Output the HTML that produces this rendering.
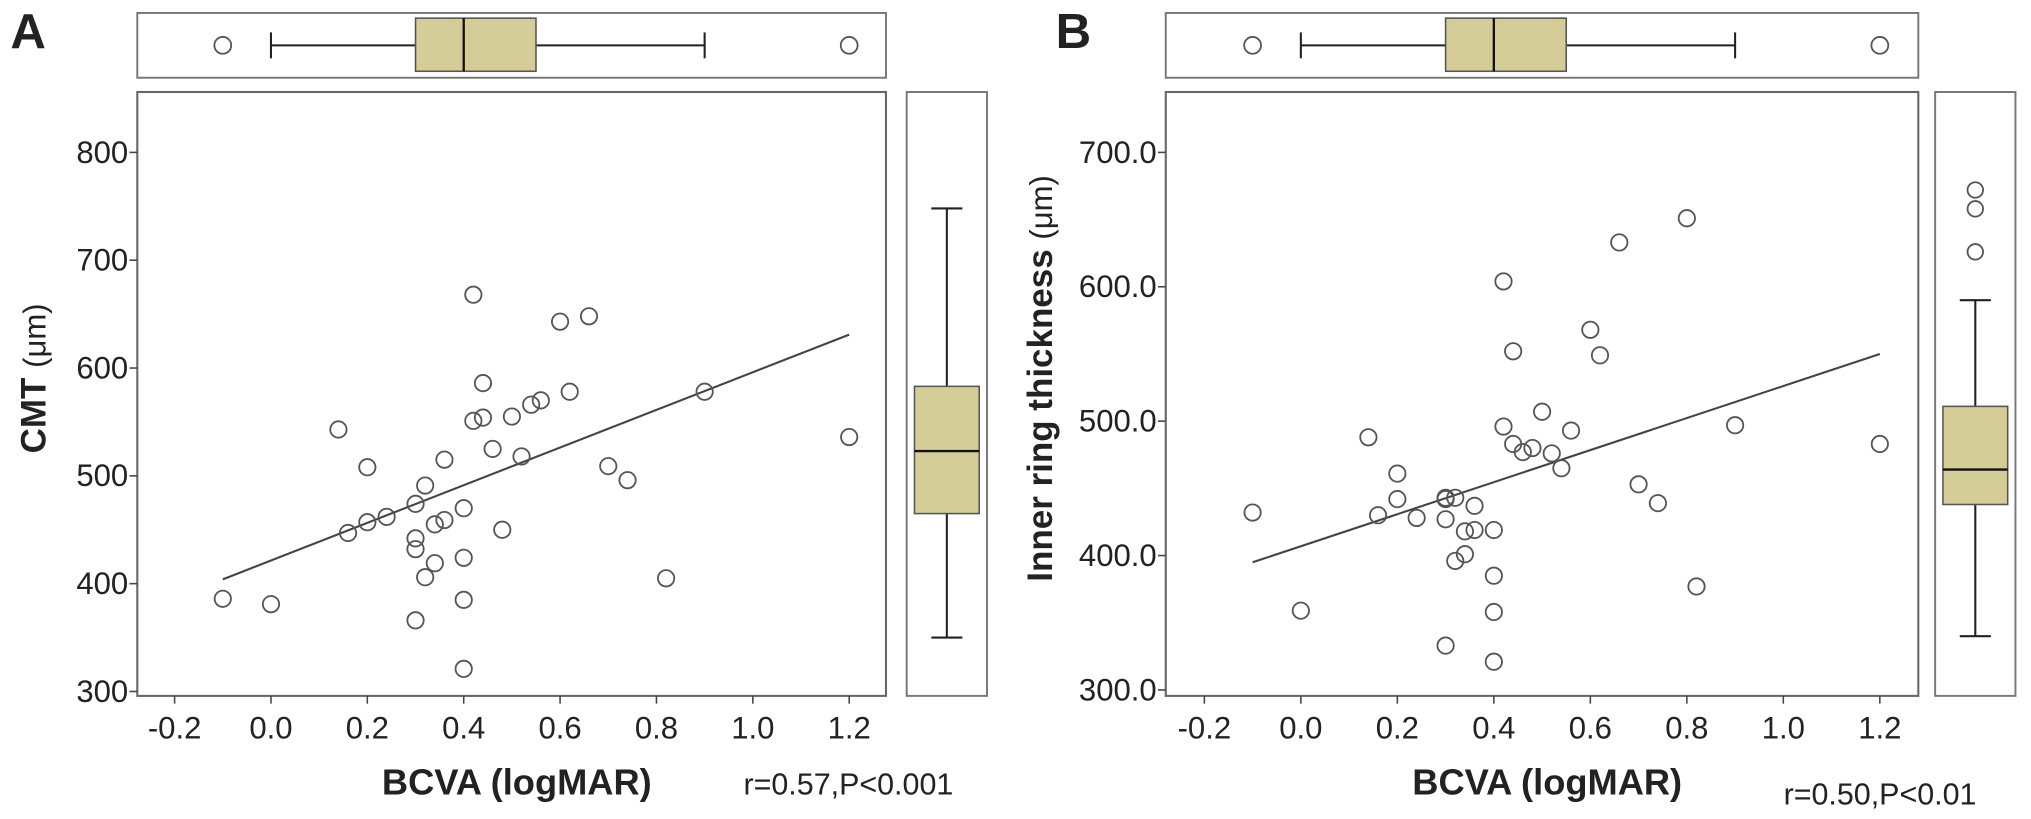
<!DOCTYPE html>
<html><head><meta charset="utf-8"><style>
html,body{margin:0;padding:0;background:#fff;}
svg{display:block;}
text{font-family:"Liberation Sans",Arial,sans-serif;fill:#222;}
</style></head><body>
<svg id="chart" width="2031" height="819" viewBox="0 0 1568 632" preserveAspectRatio="none" xmlns="http://www.w3.org/2000/svg"></svg>
<script>
// Panel A data
const aBcva = [0.42,0.60,0.66,0.44,0.62,0.90,0.54,0.56,0.42,0.44,0.50,0.14,1.20,0.46,0.36,0.52,0.20,0.70,0.74,0.32,0.30,0.40,0.24,0.20,0.16,0.34,0.36,0.48,0.30,0.30,0.40,0.34,0.32,0.82,-0.10,0.00,0.40,0.30,0.40];
const aCmt = [668,643,648,586,578,578,566,570,551,554,555,543,536,525,515,518,508,509,496,491,474,470,462,457,447,455,459,450,442,432,424,419,406,405,386,381,385,366,321];
const aFitX = [-0.10,1.20];
const aFitY = [404,631];
const aXBox = [0.00,0.30,0.40,0.55,0.90]; // whiskerLow,Q1,median,Q3,whiskerHigh
const aXOut = [-0.10,1.20];
const aYBox = [350,465,523,583,748];
const aYOut = [];
const aYTicks = [300,400,500,600,700,800];
// Panel B data
const bBcva = [0.80,0.66,0.42,0.60,0.44,0.62,0.50,0.42,0.56,0.90,0.14,1.20,0.44,0.46,0.48,0.52,0.54,0.20,0.70,0.74,0.20,0.30,0.32,0.30,0.36,-0.10,0.16,0.24,0.30,0.34,0.36,0.40,0.34,0.32,0.40,0.82,0.00,0.40,0.30,0.40];
const bIrt = [651,633,604,568,552,549,507,496,493,497,488,483,483,477,480,476,465,461,453,439,442,442,443,443,437,432,430,428,427,418,419,419,401,396,385,377,359,358,333,321];
const bFitX = [-0.10,1.20];
const bFitY = [395,550];
const bXBox = [0.00,0.30,0.40,0.55,0.90];
const bXOut = [-0.10,1.20];
const bYBox = [340,438,464,511,590];
const bYOut = [626,658,672];
const bYTicks = [300,400,500,600,700];
const xTicks = [-0.2,0.0,0.2,0.4,0.6,0.8,1.0,1.2];
const xTickLabels = ["-0.2","0.0","0.2","0.4","0.6","0.8","1.0","1.2"];

const NS="http://www.w3.org/2000/svg";
const svg=document.getElementById('chart');
function mk(tag,attrs,parent){const e=document.createElementNS(NS,tag);for(const k in attrs)e.setAttribute(k,attrs[k]);(parent||svg).appendChild(e);return e;}

function panel(cfg){
  const g=mk('g',{});
  
  
  const X=v=>cfg.x0v+v*cfg.xs;
  const Y=v=>117.6+(cfg.ytop-v)*cfg.ys;
  const L=cfg.left,R=cfg.right,T=71,B=537;
  const lt=mk('text',{x:cfg.letterX,y:37,'font-size':38,'font-weight':'bold',fill:'#111'},g);
  lt.textContent=cfg.letter;
  
  
  const tb=mk('rect',{x:L,y:10,width:R-L,height:50,fill:'#fff',stroke:'#777','stroke-width':1.5},g);
  
  
  const xb=cfg.xBox;
  mk('line',{x1:X(xb[0]),x2:X(xb[1]),y1:35,y2:35,stroke:'#222','stroke-width':1.6},g);
  mk('line',{x1:X(xb[3]),x2:X(xb[4]),y1:35,y2:35,stroke:'#222','stroke-width':1.6},g);
  mk('line',{x1:X(xb[0]),x2:X(xb[0]),y1:25,y2:45,stroke:'#222','stroke-width':1.6},g);
  mk('line',{x1:X(xb[4]),x2:X(xb[4]),y1:25,y2:45,stroke:'#222','stroke-width':1.6},g);
  const tbx=mk('rect',{x:X(xb[1]),y:14,width:X(xb[3])-X(xb[1]),height:41,fill:'#d4cd97',stroke:'#555','stroke-width':1.2},g);
  
  
  mk('line',{x1:X(xb[2]),x2:X(xb[2]),y1:14,y2:55,stroke:'#111','stroke-width':1.8},g);
  cfg.xOut.forEach(v=>{const c=mk('circle',{cx:X(v),cy:35,r:6.5,fill:'none',stroke:'#555','stroke-width':1.4},g);
    
    });
  const RL=cfg.rbL,RR=cfg.rbR,cx=(RL+RR)/2;
  const rb=mk('rect',{x:RL,y:T,width:RR-RL,height:B-T,fill:'#fff',stroke:'#777','stroke-width':1.5},g);
  
  
  const yb=cfg.yBox;
  mk('line',{x1:cx,x2:cx,y1:Y(yb[0]),y2:Y(yb[1]),stroke:'#222','stroke-width':1.6},g);
  mk('line',{x1:cx,x2:cx,y1:Y(yb[3]),y2:Y(yb[4]),stroke:'#222','stroke-width':1.6},g);
  mk('line',{x1:cx-12,x2:cx+12,y1:Y(yb[0]),y2:Y(yb[0]),stroke:'#222','stroke-width':1.6},g);
  mk('line',{x1:cx-12,x2:cx+12,y1:Y(yb[4]),y2:Y(yb[4]),stroke:'#222','stroke-width':1.6},g);
  const rbx=mk('rect',{x:RL+6,y:Y(yb[3]),width:RR-RL-12,height:Y(yb[1])-Y(yb[3]),fill:'#d4cd97',stroke:'#555','stroke-width':1.2},g);
  
  
  mk('line',{x1:RL+6,x2:RR-6,y1:Y(yb[2]),y2:Y(yb[2]),stroke:'#111','stroke-width':1.8},g);
  cfg.yOut.forEach(v=>{const c=mk('circle',{cx:cx,cy:Y(v),r:6,fill:'none',stroke:'#555','stroke-width':1.4},g);
    
    });
  const pf=mk('rect',{x:L,y:T,width:R-L,height:B-T,fill:'#fff',stroke:'#666','stroke-width':1.6},g);
  
  
  cfg.yTicks.forEach(v=>{
    mk('line',{x1:L-6,x2:L,y1:Y(v),y2:Y(v),stroke:'#444','stroke-width':1.2},g);
    const t=mk('text',{x:L-7,y:Y(v)+8,'font-size':24,'text-anchor':'end',fill:'#333'},g);
    t.textContent=cfg.fmt(v);
    
    
  });
  xTicks.forEach((v,i)=>{
    mk('line',{x1:X(v),x2:X(v),y1:B,y2:B+6,stroke:'#444','stroke-width':1.2},g);
    const t=mk('text',{x:X(v),y:570,'font-size':24,'text-anchor':'middle',fill:'#333'},g);
    t.textContent=xTickLabels[i];
    
    
  });
  const fl=mk('line',{x1:X(cfg.fitX[0]),y1:Y(cfg.fitY[0]),x2:X(cfg.fitX[1]),y2:Y(cfg.fitY[1]),stroke:'#444','stroke-width':1.6},g);
  
  
  cfg.xs_.forEach((v,i)=>{
    const c=mk('circle',{cx:X(v),cy:Y(cfg.ys_[i]),r:6.3,fill:'none',stroke:'#555','stroke-width':1.4},g);
    
    
  });
  const xt=mk('text',{x:(L+R)/2+4,y:613,'font-size':28,'font-weight':'bold','text-anchor':'middle',fill:'#111'},g);
  xt.textContent='BCVA (logMAR)';
  
  
  const st=mk('text',{x:cfg.statX,y:cfg.statY,'font-size':23.5,fill:'#222'},g);
  st.textContent=cfg.stat;
  
  
  const yt=mk('text',{x:0,y:0,'font-size':27,'text-anchor':'middle',transform:`translate(${cfg.ytX},${cfg.ytY}) rotate(-90)`,fill:'#111'},g);
  
  
  const b1=mk('tspan',{'font-weight':'bold'},yt);b1.textContent=cfg.yTitle+' ';
  const b2=mk('tspan',{'font-size':24},yt);b2.textContent='(\u03bcm)';
}
panel({id:'a',letter:'A',letterX:8,left:106,right:684,rbL:700,rbR:762,x0v:209.2,xs:372,ytop:800,ys:0.832,
  xBox:aXBox,xOut:aXOut,yBox:aYBox,yOut:aYOut,yTicks:aYTicks,fmt:v=>String(v),fitX:aFitX,fitY:aFitY,
  xs_:aBcva,ys_:aCmt,statX:574,statY:613,stat:'r=0.57,P<0.001',yTitle:'CMT',ytX:35,ytY:292});
panel({id:'b',letter:'B',letterX:815,left:900,right:1481,rbL:1494,rbR:1556,x0v:1004.3,xs:372.5,ytop:700,ys:1.037,
  xBox:bXBox,xOut:bXOut,yBox:bYBox,yOut:bYOut,yTicks:bYTicks,fmt:v=>v.toFixed(1),fitX:bFitX,fitY:bFitY,
  xs_:bBcva,ys_:bIrt,statX:1377,statY:621,stat:'r=0.50,P<0.01',yTitle:'Inner ring thickness',ytX:812,ytY:292});
</script>
</body></html>
